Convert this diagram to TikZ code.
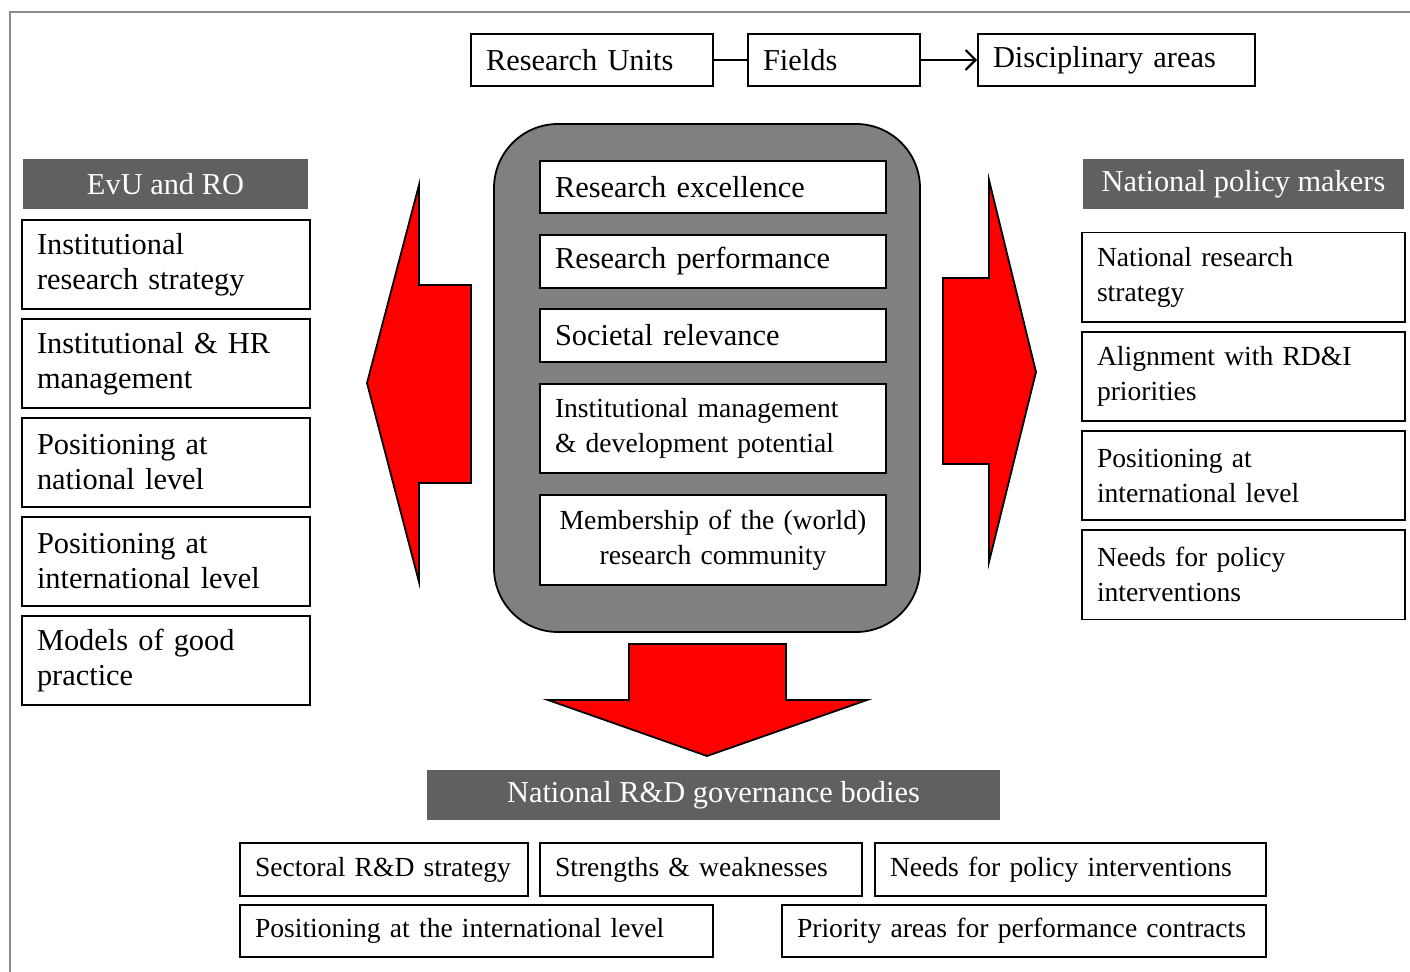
\documentclass[tikz,border=0pt]{standalone}
\usepackage{fontspec}
\setmainfont{Liberation Serif}
\usetikzlibrary{arrows.meta}
\definecolor{hdr}{HTML}{606060}
\definecolor{core}{HTML}{808080}
\definecolor{framegray}{HTML}{8C8C8C}
\newcommand{\bigtxt}{\fontsize{15.2}{17.5}\selectfont}
\newcommand{\smalltxt}{\fontsize{13.8}{17.5}\selectfont}
\begin{document}
\begin{tikzpicture}[x=0.5pt,y=-0.5pt,
box/.style={draw,line width=0.9pt,fill=white,inner xsep=7.5pt,inner ysep=0pt,align=left,font=\bigtxt},
lbox/.style={box,text width=129pt,minimum height=44.5pt},
rbox/.style={box,font=\smalltxt,text width=146.5pt,minimum height=44.75pt},
cbox/.style={box,text width=158pt,minimum height=26.5pt},
bbox/.style={box,font=\smalltxt,minimum height=26.5pt},
hdr/.style={fill=hdr,text=white,inner sep=0pt,minimum height=25pt,align=center},
redarrow/.style={fill=red,draw=black,line width=0.9pt,line join=miter}]
\useasboundingbox (0,0) rectangle (1410,972);
\draw[framegray,line width=0.8pt](10,972)--(10,12)--(1410,12);
\node[box,text width=106pt,minimum height=26pt](ru)at(592,60){Research Units};
\node[box,text width=71pt,minimum height=26pt](fi)at(834,60){Fields};
\node[box,text width=123.5pt,minimum height=26pt](da)at(1116.5,60){Disciplinary areas};
\draw[line width=1pt](ru)--(fi);
\draw[line width=1.1pt,-{Straight Barb[length=5pt,width=10pt]}](fi)--(da);
\node[hdr,font=\bigtxt,minimum width=142.5pt](evu)at(165.5,184){EvU and RO};
\foreach \t [count=\i] in {{Institutional\\research strategy},{Institutional \& HR\\management},{Positioning at\\national level},{Positioning at\\international level},{Models of good\\practice}}
  \node[lbox](l\i)at(166,{165.5+99*\i}){\t};
\node[hdr,font=\fontsize{15.2}{17.5}\selectfont,minimum width=160.5pt](npm)at(1243.5,184){National policy makers};
\foreach \t [count=\i] in {{National research\\strategy},{Alignment with RD\&I\\priorities},{Positioning at\\international level},{Needs for policy\\interventions}}
  \node[rbox](r\i)at(1243.5,{178+99.2*\i}){\t};
\draw[redarrow](367,383)--(419,185)--(419,285)--(471,285)--(471,483)--(419,483)--(419,582)--cycle;
\draw[redarrow](1036,372)--(989,180)--(989,278)--(943,278)--(943,464)--(989,464)--(989,562)--cycle;
\draw[redarrow](707,756)--(548,700)--(629,700)--(629,644)--(786,644)--(786,700)--(867,700)--cycle;
\node[draw,line width=0.9pt,fill=core,rounded corners=32pt,minimum width=213pt,minimum height=254pt](crit)at(707,378){};
\node[cbox,minimum height=26pt](c1)at(713,187){Research excellence};
\node[cbox](c2)at(713,261.5){Research performance};
\node[cbox](c3)at(713,335.5){Societal relevance};
\node[cbox,font=\smalltxt,minimum height=44.5pt](c4)at(713,428.5){Institutional management\\\& development potential};
\node[cbox,font=\smalltxt,align=center,minimum height=45pt](c5)at(713,540){Membership of the (world)\\research community};
\node[hdr,font=\bigtxt,minimum width=286.5pt](gov)at(713.5,795){National R\&D governance bodies};
\node[bbox,text width=129pt](b1)at(384,869.5){Sectoral R\&D strategy};
\node[bbox,text width=146pt](b2)at(701,869.5){Strengths \& weaknesses};
\node[bbox,text width=180.5pt](b3)at(1070.5,869.5){Needs for policy interventions};
\node[bbox,text width=221.5pt,minimum height=26pt](b4)at(476.5,931){Positioning at the international level};
\node[bbox,text width=227pt,minimum height=26pt](b5)at(1024,931){Priority areas for performance contracts};
\end{tikzpicture}
\end{document}
